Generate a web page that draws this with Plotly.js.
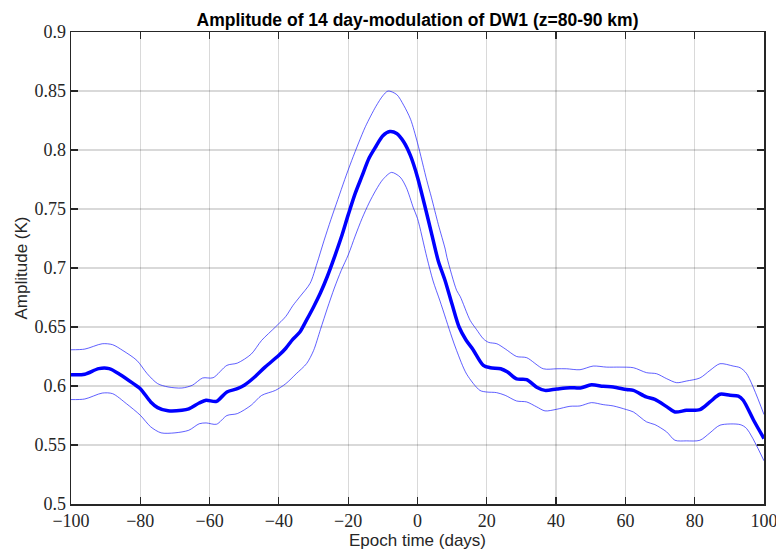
<!DOCTYPE html>
<html>
<head>
<meta charset="utf-8">
<script src="https://cdn.plot.ly/plotly-3.0.1.min.js"></script>
<style>html,body{margin:0;padding:0;background:#fff;}#chart{width:776px;height:550px;}</style>
</head>
<body>
<div id="chart"></div>
<script>
const meanX = [-100,-96,-92,-89,-86,-82,-80,-77,-75,-72,-68,-66,-63,-61,-58,-55,-52,-50,-47,-44,-40,-38,-36,-34,-32,-30,-28,-26,-24,-22,-20,-18,-16,-14,-12,-10,-8,-6,-4,-2,0,2,4,6,8,10,12,14,16,19,21,24,26,28.6,31.5,34.4,36.8,40.2,44,47,50.2,53.6,56.5,60.3,62.3,66,68.5,72,74.3,77.6,81.5,84.4,87.3,90.2,92.6,94,97,100];
const meanY = [0.6096,0.610,0.6147,0.6147,0.610,0.602,0.5977,0.5865,0.5817,0.579,0.5794,0.5806,0.5856,0.5879,0.587,0.595,0.5977,0.6006,0.6076,0.616,0.626,0.632,0.6395,0.6455,0.656,0.667,0.679,0.693,0.709,0.726,0.745,0.763,0.778,0.793,0.803,0.812,0.8156,0.814,0.807,0.795,0.777,0.754,0.730,0.706,0.689,0.669,0.650,0.639,0.631,0.6175,0.6155,0.6146,0.6118,0.606,0.6054,0.599,0.5963,0.5975,0.5986,0.5983,0.601,0.5997,0.5992,0.597,0.5963,0.5907,0.5887,0.5823,0.578,0.5794,0.580,0.5865,0.593,0.5921,0.5915,0.5879,0.571,0.5555];

const upperX = [-100,-96,-91,-88,-85,-81,-78,-75,-72,-68,-65,-62,-59,-55,-52,-48,-45,-41,-38,-36,-34,-31,-29,-27,-25,-23,-21,-19,-17,-15,-12,-10,-8.5,-6,-4,-2,0,2.7,4,6,8,8.5,11.3,12.3,15.2,17,19,20.5,22.9,25.3,28.6,31.5,36.3,40.2,43,46.9,50.7,54.6,58.4,62.3,66.1,69,71.9,74.8,77.6,81.5,84.4,87.3,91.1,93.1,95,100];
const upperY = [0.6307,0.6313,0.6358,0.635,0.630,0.6217,0.6104,0.602,0.5992,0.5983,0.6006,0.6068,0.607,0.6175,0.6194,0.627,0.6386,0.650,0.659,0.668,0.6755,0.687,0.704,0.723,0.741,0.758,0.775,0.791,0.806,0.820,0.837,0.846,0.850,0.847,0.838,0.826,0.806,0.774,0.760,0.737,0.716,0.709,0.681,0.676,0.6556,0.648,0.640,0.637,0.6358,0.6315,0.625,0.624,0.6146,0.6146,0.6146,0.6138,0.6169,0.616,0.616,0.6155,0.6113,0.6104,0.6062,0.6028,0.6042,0.6068,0.6132,0.6189,0.6169,0.6155,0.6104,0.5758];

const lowerX = [-100,-96,-91,-88,-84,-80,-77,-74,-70,-66,-63,-61,-58,-55,-52,-48,-45,-41,-38,-35,-32,-30,-28,-26,-24,-22,-20,-18,-16,-14,-12,-10,-7.5,-5,-3.2,-1.2,0,2.7,4.5,6.5,9.9,11.3,14.2,18,20,22.8,25.3,28.6,31.5,34.4,36.8,40.2,44,46.9,50.2,53.6,56.5,60.3,62.3,66.1,68.5,71.9,74.3,77.6,81.5,84.4,87.3,93.1,95,100];
const lowerY = [0.5885,0.589,0.594,0.5935,0.585,0.5752,0.5654,0.5603,0.5603,0.5625,0.568,0.5687,0.5676,0.575,0.5766,0.5837,0.592,0.5963,0.602,0.6104,0.619,0.630,0.648,0.666,0.683,0.698,0.711,0.727,0.742,0.755,0.766,0.775,0.781,0.777,0.768,0.751,0.742,0.709,0.689,0.672,0.6415,0.630,0.610,0.5963,0.5949,0.5944,0.5921,0.5873,0.5865,0.5823,0.5789,0.5803,0.5828,0.5831,0.5859,0.5842,0.5831,0.580,0.578,0.5696,0.5673,0.5611,0.554,0.5535,0.554,0.5603,0.5668,0.5673,0.5639,0.5366];

const xTickVals = [-100,-80,-60,-40,-20,0,20,40,60,80,100];
const xTickText = ['\u2212100','\u221280','\u221260','\u221240','\u221220','0','20','40','60','80','100'];
const yTickVals = [0.5,0.55,0.6,0.65,0.7,0.75,0.8,0.85,0.9];
const yTickText = ['0.5','0.55','0.6','0.65','0.7','0.75','0.8','0.85','0.9'];

const titleText = 'Amplitude of 14 day-modulation of DW1 (z=80-90 km)';
const xTitle = 'Epoch time (days)';
const yTitle = 'Amplitude (K)';

const thin = {color:'rgba(20,20,255,0.85)', width:0.8, shape:'spline', smoothing:0.8};
const traces = [
  {x:upperX, y:upperY, mode:'lines', line:thin, hoverinfo:'skip'},
  {x:lowerX, y:lowerY, mode:'lines', line:thin, hoverinfo:'skip'},
  {x:meanX, y:meanY, mode:'lines', line:{color:'#0000ff', width:3.5, shape:'spline', smoothing:0.8}}
];

const serifFont = {family:'"Liberation Serif", "Times New Roman", serif', size:18, color:'#262626'};
const sansTitle = {family:'"Liberation Sans", Arial, sans-serif', size:17, color:'#262626'};

function axis(extra) {
  return Object.assign({
    showline:true, linecolor:'#262626', linewidth:1.5, mirror:'ticks',
    ticks:'inside', ticklen:7, tickwidth:1.2, tickcolor:'#262626',
    showgrid:true, gridcolor:'rgba(0,0,0,0.15)', gridwidth:1.2,
    zeroline:false, tickmode:'array', ticklabeloverflow:'allow',
    tickfont:serifFont
  }, extra);
}

const layout = {
  width:776, height:550,
  margin:{l:71, r:12, t:32, b:46},
  paper_bgcolor:'#fff', plot_bgcolor:'#fff',
  showlegend:false,
  title:{text:'<b>'+titleText+'</b>', x:0.5, xref:'paper', xanchor:'center', y:1-20/550, yanchor:'middle', yref:'container',
         font:{family:'"Liberation Sans", Arial, sans-serif', size:17.5, color:'#000'}},
  xaxis:axis({range:[-100,100], tickvals:xTickVals, ticktext:xTickText,
    title:{text:xTitle, standoff:4, font:sansTitle}}),
  yaxis:axis({range:[0.5,0.9], tickvals:yTickVals, ticktext:yTickText,
    title:{text:yTitle, standoff:2, font:sansTitle}})
};

Plotly.newPlot('chart', traces, layout, {staticPlot:true, displayModeBar:false});
</script>
</body>
</html>
